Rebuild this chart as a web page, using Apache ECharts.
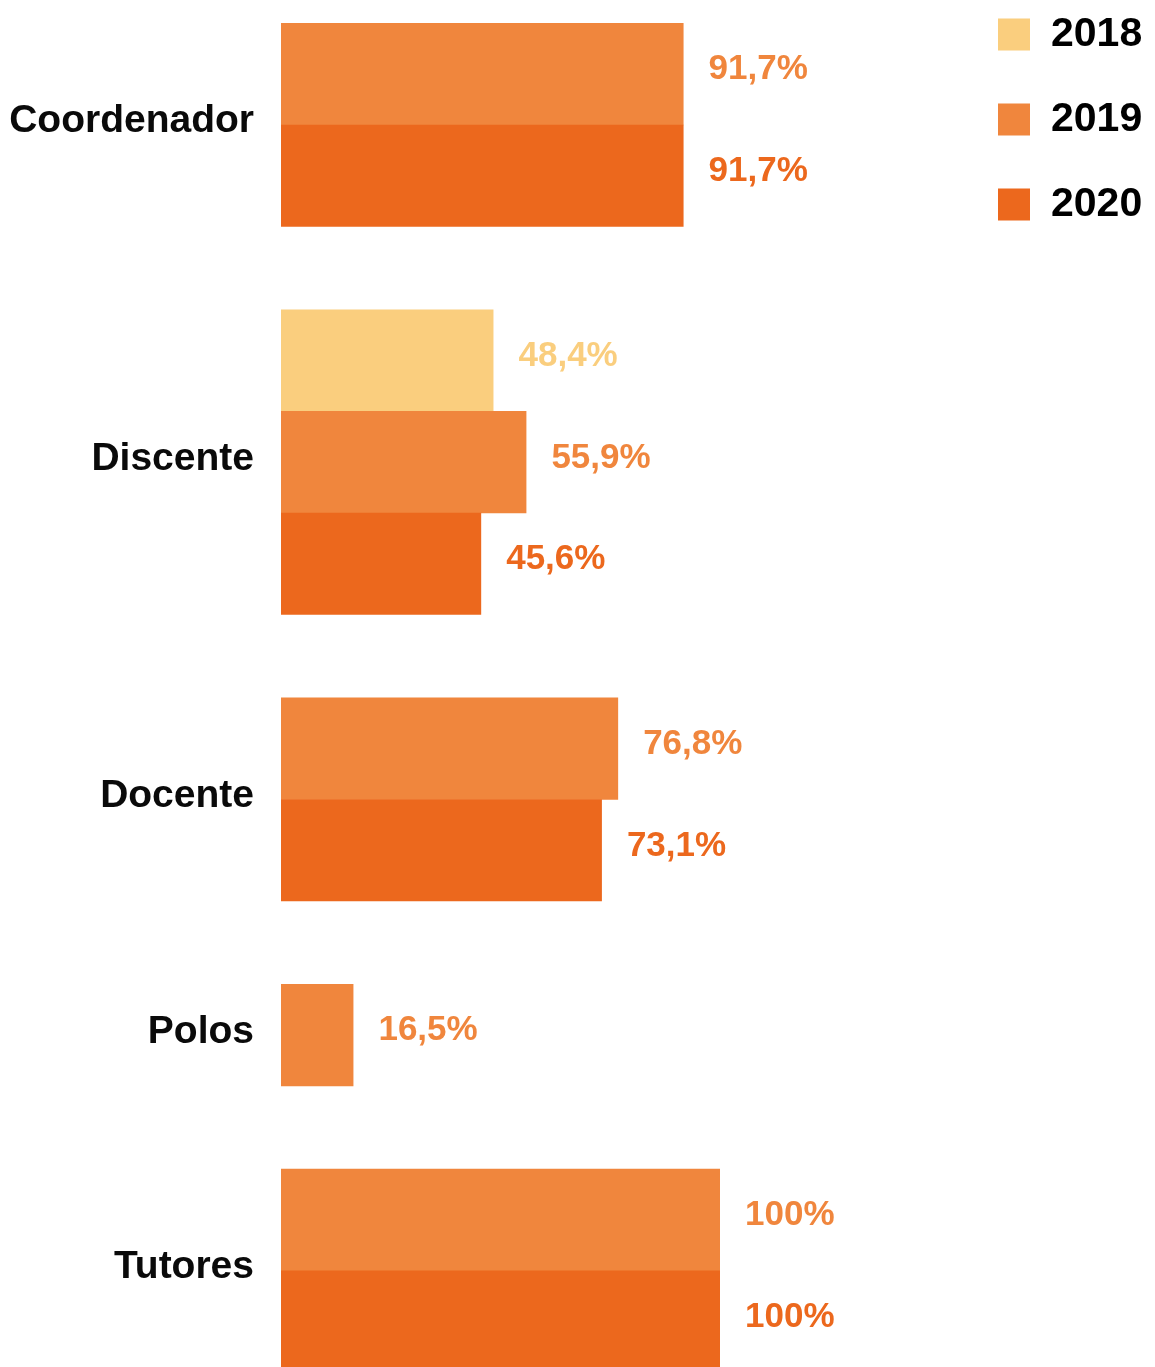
<!DOCTYPE html>
<html>
<head>
<meta charset="utf-8">
<script src="https://cdn.jsdelivr.net/npm/echarts@6/dist/echarts.min.js"></script>
<style>
html,body{margin:0;padding:0;background:#fff;}
#chart{width:1155px;height:1367px;}
</style>
</head>
<body>
<div id="chart"></div>
<script>
// ---- data ----
const categories = ['Coordenador', 'Discente', 'Docente', 'Polos', 'Tutores'];
const years = ['2018', '2019', '2020'];
const v2018 = [null, 48.4, null, null, null];
const v2019 = [91.7, 55.9, 76.8, 16.5, 100];
const v2020 = [91.7, 45.6, 73.1, null, 100];

// ---- styles ----
const colors = ['#FACE7E', '#F0863D', '#EC681D'];
const FONT = '"Liberation Sans", Arial, sans-serif';
const GAP = 83.5 / 102; // gap between groups in bar-height units

// ---- layout: each present bar occupies one unit slot, groups separated by GAP ----
const seriesVals = [v2018, v2019, v2020];
const seriesData = [[], [], []];
const groupCenters = [];
let cursor = 0;
categories.forEach((c, ci) => {
  const start = cursor;
  seriesVals.forEach((vals, si) => {
    if (vals[ci] != null) {
      seriesData[si].push([vals[ci], cursor, ci]);
      cursor += 1;
    }
  });
  groupCenters.push([start + (cursor - start) / 2, ci]);
  if (ci < categories.length - 1) cursor += GAP;
});
const totalUnits = cursor;

function fmt(v) { return String(v).replace('.', ',') + '%'; }

const chart = echarts.init(document.getElementById('chart'), null, {renderer: 'canvas'});

const barSeries = years.map((y, si) => ({
  name: y,
  type: 'custom',
  clip: false,
  itemStyle: {color: colors[si]},
  encode: {x: 0, y: 1},
  data: seriesData[si],
  renderItem: function (params, api) {
    const v = api.value(0);
    const y0 = api.value(1);
    const p0 = api.coord([0, y0]);
    const p1 = api.coord([v, y0 + 1]);
    return {
      type: 'group',
      children: [
        {
          type: 'rect',
          shape: {x: p0[0], y: p0[1], width: p1[0] - p0[0], height: p1[1] - p0[1] + 0.5},
          style: {fill: colors[si]}
        },
        {
          type: 'text',
          x: p1[0] + 25,
          y: (p0[1] + p1[1]) / 2 - 4,
          style: {
            text: fmt(v),
            fill: colors[si],
            font: 'bold 35px ' + FONT,
            align: 'left',
            verticalAlign: 'middle'
          }
        }
      ]
    };
  }
}));

const labelSeries = {
  name: 'categories',
  type: 'custom',
  silent: true,
  clip: false,
  encode: {x: 1, y: 0},
  data: groupCenters.map(g => [g[0], 0, g[1]]),
  renderItem: function (params, api) {
    const c = api.value(0);
    const idx = api.value(2);
    const p = api.coord([0, c]);
    return {
      type: 'text',
      x: p[0] - 27,
      y: p[1] - 3,
      style: {
        text: categories[idx],
        fill: '#0a0a0a',
        font: 'bold 39px ' + FONT,
        align: 'right',
        verticalAlign: 'middle'
      }
    };
  }
};

chart.setOption({
  animation: false,
  backgroundColor: '#fff',
  grid: {left: 281, width: 439, top: 23, bottom: 0, containLabel: false},
  xAxis: {type: 'value', min: 0, max: 100, show: false},
  // the last bar runs slightly past the bottom edge, as in the reference
  yAxis: {type: 'value', min: 0, max: totalUnits - 0.05, inverse: true, show: false},
  legend: {
    data: years,
    orient: 'vertical',
    left: 998,
    top: 14,
    padding: 0,
    icon: 'rect',
    itemWidth: 32,
    itemHeight: 32,
    itemGap: 44,
    selectedMode: false,
    textStyle: {
      fontSize: 41,
      fontWeight: 'bold',
      fontFamily: FONT,
      color: '#000',
      padding: [0, 0, 0, 16]
    }
  },
  series: barSeries.concat([labelSeries])
});
</script>
</body>
</html>
